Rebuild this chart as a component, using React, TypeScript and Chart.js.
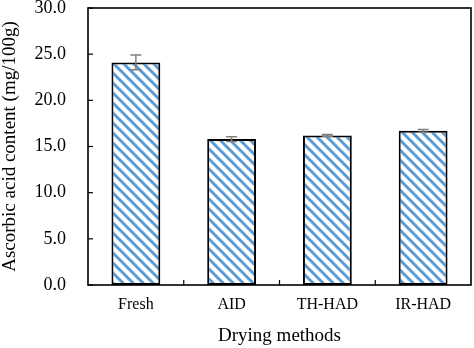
import React, { useEffect, useRef } from "react";
import { Chart, registerables } from "chart.js";

Chart.register(...registerables);

const categories = ["Fresh", "AID", "TH-HAD", "IR-HAD"];
const values = [24.1, 15.8, 16.2, 16.7];
const errors = [0.8, 0.25, 0.1, 0.15];
const yTicks = [0, 5, 10, 15, 20, 25, 30];

const FONT = "'Liberation Serif', 'Times New Roman', serif";

function makePattern(): CanvasPattern | string {
  const s = 10;
  const c = document.createElement("canvas");
  c.width = s;
  c.height = s;
  const ctx = c.getContext("2d");
  if (!ctx) return "#5B9BD5";
  ctx.fillStyle = "#ffffff";
  ctx.fillRect(0, 0, s, s);
  ctx.strokeStyle = "#5B9BD5";
  ctx.lineWidth = 3;
  for (const x0 of [-s, 0, s]) {
    ctx.beginPath();
    ctx.moveTo(x0 - 2, -2);
    ctx.lineTo(x0 + s + 2, s + 2);
    ctx.stroke();
  }
  const p = ctx.createPattern(c, "repeat");
  return p || "#5B9BD5";
}

const framePlugin = {
  id: "frame",
  afterDatasetsDraw(chart: any) {
    const { ctx, chartArea, scales } = chart;
    const { left, right, top, bottom } = chartArea;
    ctx.save();
    const meta = chart.getDatasetMeta(0);
    ctx.strokeStyle = "#7f7f7f";
    ctx.lineWidth = 1.5;
    meta.data.forEach((bar: any, i: number) => {
      const x = bar.x;
      const yHi = scales.y.getPixelForValue(values[i] + errors[i]);
      const yLo = scales.y.getPixelForValue(values[i] - errors[i]);
      ctx.beginPath();
      ctx.moveTo(x, yHi);
      ctx.lineTo(x, yLo);
      ctx.moveTo(x - 5.5, yHi);
      ctx.lineTo(x + 5.5, yHi);
      ctx.moveTo(x - 5.5, yLo);
      ctx.lineTo(x + 5.5, yLo);
      ctx.stroke();
    });
    ctx.strokeStyle = "#000000";
    ctx.lineWidth = 1.6;
    ctx.strokeRect(left, top, right - left, bottom - top);
    ctx.lineWidth = 1.2;
    yTicks.forEach((v) => {
      const y = scales.y.getPixelForValue(v);
      ctx.beginPath();
      ctx.moveTo(left, y);
      ctx.lineTo(left + 5, y);
      ctx.stroke();
    });
    const xs = scales.x;
    for (let i = 1; i < categories.length; i++) {
      const x = (xs.getPixelForValue(i - 1) + xs.getPixelForValue(i)) / 2;
      ctx.beginPath();
      ctx.moveTo(x, bottom);
      ctx.lineTo(x, bottom - 5);
      ctx.stroke();
    }
    ctx.restore();
  },
};

export default function App() {
  const ref = useRef<HTMLCanvasElement | null>(null);
  useEffect(() => {
    if (!ref.current) return;
    const pattern = makePattern();
    const chart = new Chart(ref.current, {
      type: "bar",
      data: {
        labels: categories,
        datasets: [
          {
            data: values,
            backgroundColor: pattern as any,
            borderColor: "#000000",
            borderWidth: 2,
            borderSkipped: false,
            barPercentage: 0.51,
            categoryPercentage: 1,
          },
        ],
      },
      options: {
        animation: false,
        responsive: true,
        maintainAspectRatio: false,
        layout: { padding: { left: 0, right: 3, top: 8, bottom: 0 } },
        plugins: {
          legend: { display: false },
          tooltip: { enabled: false },
        },
        scales: {
          x: {
            grid: { display: false, drawTicks: false },
            border: { display: false },
            afterFit: (axis: any) => {
              axis.height = 63;
              axis.paddingLeft = 0;
              axis.paddingRight = 0;
            },
            ticks: {
              color: "#000",
              font: { family: FONT, size: 16 },
              padding: 10,
            },
            title: {
              display: true,
              text: "Drying methods",
              color: "#000",
              font: { family: FONT, size: 19 },
              padding: { top: 0, bottom: 1 },
            },
          },
          y: {
            min: 0,
            max: 30,
            grid: { display: false, drawTicks: false },
            border: { display: false },
            afterBuildTicks: (axis: any) => {
              axis.ticks = yTicks.map((v) => ({ value: v }));
            },
            afterFit: (axis: any) => {
              axis.width = 88;
              axis.paddingTop = 0;
              axis.paddingBottom = 0;
            },
            ticks: {
              color: "#000",
              font: { family: FONT, size: 18 },
              padding: 22,
              callback: (v: any) => Number(v).toFixed(1),
            },
            title: {
              display: true,
              text: "Ascorbic acid content (mg/100g)",
              color: "#000",
              font: { family: FONT, size: 19 },
              padding: { top: -1, bottom: 0 },
            },
          },
        },
      },
      plugins: [framePlugin],
    });
    return () => chart.destroy();
  }, []);
  return (
    <div style={{ position: "fixed", left: 0, top: 0, width: 474, height: 348, background: "#fff" }}>
      <canvas ref={ref} />
    </div>
  );
}
